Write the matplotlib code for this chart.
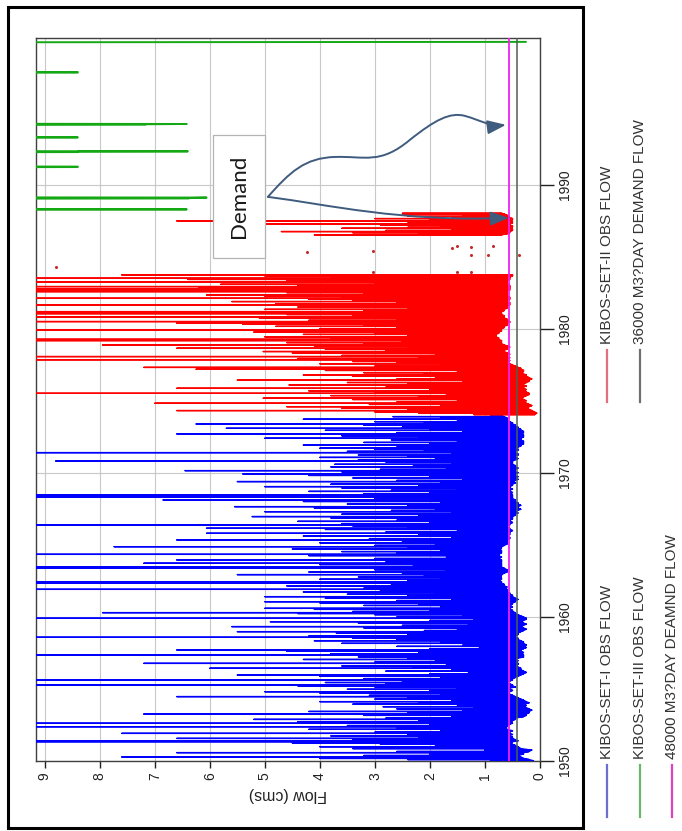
import numpy as np
import matplotlib
matplotlib.use('Agg')
import matplotlib.pyplot as plt
from matplotlib.lines import Line2D
from matplotlib.patches import Rectangle, FancyArrowPatch
from matplotlib.path import Path

plt.rcParams['font.family'] = ['Liberation Sans', 'DejaVu Sans']

# KIBOS-SET-I: flood spikes (year, peak flow, low flow before/after)
blue_t = [
    1950.02, 1950.10, 1950.18, 1950.28, 1950.38, 1950.48, 1950.58, 1950.66, 1950.76, 1950.86,
    1950.99, 1951.08, 1951.16, 1951.26, 1951.34, 1951.40, 1951.48, 1951.57, 1951.66, 1951.74,
    1951.84, 1951.92, 1952.00, 1952.10, 1952.20, 1952.30, 1952.38, 1952.46, 1952.55, 1952.62,
    1952.72, 1952.80, 1952.89, 1952.98, 1953.08, 1953.17, 1953.26, 1953.35, 1953.44, 1953.53,
    1953.62, 1953.70, 1953.77, 1953.86, 1953.95, 1954.04, 1954.12, 1954.22, 1954.30, 1954.38,
    1954.47, 1954.56, 1954.64, 1954.72, 1954.81, 1954.90, 1954.98, 1955.06, 1955.14, 1955.22,
    1955.28, 1955.36, 1955.45, 1955.54, 1955.63, 1955.72, 1955.80, 1955.88, 1955.97, 1956.06,
    1956.15, 1956.24, 1956.34, 1956.44, 1956.52, 1956.60, 1956.70, 1956.78, 1956.87, 1956.96,
    1957.05, 1957.14, 1957.22, 1957.30, 1957.36, 1957.45, 1957.53, 1957.62, 1957.71, 1957.80,
    1957.88, 1957.96, 1958.05, 1958.17, 1958.26, 1958.35, 1958.44, 1958.52, 1958.59, 1958.68,
    1958.78, 1958.88, 1958.98, 1959.06, 1959.15, 1959.24, 1959.33, 1959.42, 1959.50, 1959.58,
    1959.67, 1959.76, 1959.84, 1959.91, 1960.00, 1960.08, 1960.16, 1960.24, 1960.30, 1960.38,
    1960.46, 1960.53, 1960.60, 1960.70, 1960.80, 1960.90, 1960.98, 1961.06, 1961.14, 1961.22,
    1961.30, 1961.41, 1961.50, 1961.58, 1961.66, 1961.74, 1961.83, 1961.92, 1962.00, 1962.08,
    1962.16, 1962.26, 1962.34, 1962.40, 1962.45, 1962.54, 1962.62, 1962.70, 1962.78, 1962.86,
    1962.94, 1963.04, 1963.12, 1963.20, 1963.28, 1963.38, 1963.46, 1963.55, 1963.64, 1963.73,
    1963.82, 1963.90, 1963.96, 1964.06, 1964.16, 1964.26, 1964.35, 1964.45, 1964.54, 1964.62,
    1964.72, 1964.80, 1964.88, 1964.97, 1965.06, 1965.15, 1965.25, 1965.35, 1965.44, 1965.53,
    1965.62, 1965.72, 1965.81, 1965.90, 1966.00, 1966.08, 1966.16, 1966.25, 1966.32, 1966.39,
    1966.48, 1966.56, 1966.64, 1966.72, 1966.80, 1966.88, 1966.97, 1967.06, 1967.14, 1967.22,
    1967.31, 1967.40, 1967.48, 1967.57, 1967.66, 1967.75, 1967.84, 1967.92, 1968.02, 1968.13,
    1968.22, 1968.31, 1968.39, 1968.47, 1968.56, 1968.64, 1968.72, 1968.80, 1968.88, 1968.96,
    1969.05, 1969.14, 1969.22, 1969.31, 1969.40, 1969.48, 1969.56, 1969.65, 1969.74, 1969.83,
    1969.93, 1970.02, 1970.08, 1970.16, 1970.25, 1970.34, 1970.42, 1970.51, 1970.60, 1970.68,
    1970.76, 1970.83, 1970.92, 1971.00, 1971.08, 1971.16, 1971.24, 1971.32, 1971.41, 1971.50,
    1971.58, 1971.65, 1971.72, 1971.80, 1971.87, 1971.94, 1972.03, 1972.12, 1972.20, 1972.30,
    1972.41, 1972.50, 1972.58, 1972.64, 1972.71, 1972.80, 1972.88, 1972.96, 1973.03, 1973.10,
    1973.18, 1973.25, 1973.32, 1973.40, 1973.48, 1973.56, 1973.65, 1973.73, 1973.82, 1973.91,
    1973.98,
]
blue_peak = [
    0.9, 2.4, 4.0, 7.6, 3.2, 2.0, 6.6, 2.6, 1.0, 3.4,
    4.0, 1.9, 2.9, 4.5, 10, 10, 3.4, 6.6, 2.2, 3.8,
    2.4, 7.6, 3.0, 1.8, 4.2, 2.6, 10, 3.5, 2.0, 10,
    4.4, 2.2, 5.2, 2.8, 1.6, 3.2, 7.2, 2.4, 4.2, 1.4,
    2.6, 1.2, 2.85, 1.5, 3.4, 2.2, 4.0, 1.6, 3.0, 2.4,
    6.6, 3.1, 1.8, 4.0, 5.0, 2.0, 3.5, 1.5, 3.0, 4.4,
    10, 2.8, 3.9, 2.5, 10, 3.2, 1.8, 4.0, 5.5, 2.0,
    1.3, 2.8, 1.6, 6.0, 2.3, 3.6, 1.7, 7.2, 3.0, 1.9,
    4.3, 2.4, 3.3, 1.8, 10, 3.8, 2.2, 4.6, 6.6, 2.0,
    1.1, 2.6, 1.4, 3.6, 1.8, 4.1, 2.6, 3.4, 10, 4.2,
    2.4, 3.7, 5.5, 2.1, 1.5, 3.2, 5.6, 2.5, 1.3, 3.3,
    4.9, 2.0, 1.2, 10, 2.6, 1.4, 3.0, 4.4, 7.95, 3.4,
    2.0, 4.1, 5.0, 1.8, 3.2, 2.2, 4.0, 5.0, 2.6, 1.6,
    3.9, 5.0, 2.4, 3.5, 1.9, 4.3, 2.9, 10, 3.2, 1.9,
    4.6, 2.7, 10, 3.8, 10, 2.4, 4.0, 1.8, 3.3, 2.1,
    5.5, 2.5, 4.2, 1.7, 3.0, 10, 10, 2.3, 4.0, 7.2,
    2.8, 1.9, 6.6, 3.0, 1.7, 4.2, 10, 2.6, 3.6, 1.8,
    4.5, 2.4, 7.74, 3.0, 1.9, 4.0, 2.5, 6.6, 3.1, 1.6,
    4.3, 2.2, 6.06, 2.8, 1.5, 3.9, 6.06, 2.4, 3.4, 10,
    3.6, 2.0, 4.4, 2.6, 1.4, 3.8, 5.23, 2.2, 3.6, 1.6,
    5.0, 2.7, 1.9, 4.1, 5.55, 2.4, 3.5, 1.8, 4.3, 6.85,
    3.0, 10, 10, 10, 3.2, 2.0, 4.2, 2.7, 1.5, 3.6,
    5.0, 2.2, 3.8, 1.8, 5.5, 2.6, 1.4, 3.4, 2.0, 4.2,
    5.4, 2.4, 3.6, 6.45, 2.9, 1.7, 3.8, 2.3, 3.73, 1.6,
    2.8, 8.8, 3.3, 1.9, 4.0, 2.4, 3.3, 1.6, 10, 3.5,
    2.1, 3.0, 4.0, 1.8, 2.6, 4.3, 2.0, 3.2, 1.5, 2.7,
    5.0, 2.2, 3.6, 1.7, 6.6, 2.6, 1.4, 3.9, 2.0, 5.7,
    2.5, 1.6, 3.2, 6.25, 2.1, 3.0, 1.5, 4.3, 1.8, 2.67,
    0.9,
]
blue_low = [
    0.12, 0.2, 0.3, 0.35, 0.4, 0.3, 0.3, 0.2, 0.15, 0.35,
    0.4, 0.45, 0.5, 0.55, 0.5, 0.4, 0.45, 0.5, 0.5, 0.6,
    0.5, 0.6, 0.55, 0.5, 0.6, 0.65, 0.6, 0.6, 0.55, 0.5,
    0.55, 0.5, 0.45, 0.45, 0.3, 0.25, 0.25, 0.2, 0.2, 0.15,
    0.2, 0.25, 0.3, 0.25, 0.3, 0.2, 0.25, 0.3, 0.35, 0.4,
    0.45, 0.5, 0.55, 0.6, 0.55, 0.5, 0.6, 0.55, 0.45, 0.5,
    0.5, 0.55, 0.6, 0.55, 0.5, 0.5, 0.45, 0.4, 0.35, 0.3,
    0.25, 0.3, 0.35, 0.35, 0.4, 0.45, 0.4, 0.4, 0.45, 0.4,
    0.45, 0.4, 0.3, 0.3, 0.3, 0.35, 0.3, 0.35, 0.35, 0.3,
    0.25, 0.3, 0.25, 0.3, 0.3, 0.35, 0.4, 0.4, 0.45, 0.45,
    0.4, 0.4, 0.35, 0.3, 0.25, 0.3, 0.35, 0.3, 0.25, 0.3,
    0.35, 0.3, 0.25, 0.25, 0.3, 0.35, 0.4, 0.45, 0.45, 0.5,
    0.5, 0.55, 0.55, 0.5, 0.55, 0.5, 0.5, 0.45, 0.45, 0.4,
    0.45, 0.5, 0.5, 0.55, 0.55, 0.6, 0.6, 0.6, 0.65, 0.6,
    0.65, 0.65, 0.7, 0.7, 0.7, 0.75, 0.7, 0.7, 0.75, 0.7,
    0.7, 0.65, 0.6, 0.6, 0.6, 0.65, 0.7, 0.7, 0.7, 0.7,
    0.7, 0.7, 0.7, 0.75, 0.7, 0.75, 0.75, 0.7, 0.7, 0.7,
    0.75, 0.7, 0.7, 0.65, 0.6, 0.6, 0.6, 0.6, 0.55, 0.55,
    0.6, 0.55, 0.55, 0.55, 0.5, 0.55, 0.55, 0.6, 0.6, 0.55,
    0.55, 0.5, 0.55, 0.55, 0.5, 0.5, 0.5, 0.45, 0.45, 0.4,
    0.45, 0.4, 0.35, 0.4, 0.4, 0.35, 0.4, 0.4, 0.45, 0.45,
    0.5, 0.5, 0.5, 0.5, 0.55, 0.5, 0.55, 0.55, 0.5, 0.55,
    0.55, 0.5, 0.5, 0.45, 0.5, 0.45, 0.4, 0.45, 0.4, 0.45,
    0.45, 0.4, 0.45, 0.45, 0.45, 0.4, 0.45, 0.45, 0.5, 0.5,
    0.5, 0.5, 0.45, 0.4, 0.45, 0.45, 0.4, 0.4, 0.45, 0.45,
    0.4, 0.4, 0.45, 0.4, 0.35, 0.35, 0.3, 0.3, 0.3, 0.35,
    0.35, 0.3, 0.3, 0.3, 0.35, 0.3, 0.3, 0.35, 0.35, 0.4,
    0.4, 0.45, 0.45, 0.5, 0.5, 0.55, 0.6, 0.6, 0.6, 0.65,
    0.7,
]

# KIBOS-SET-II: main record 1974-1983 and the short 1986-88 record
red_t = [
    1974.05, 1974.15, 1974.24, 1974.33, 1974.42, 1974.50, 1974.60, 1974.68, 1974.76, 1974.84,
    1974.93, 1975.02, 1975.10, 1975.19, 1975.28, 1975.37, 1975.45, 1975.53, 1975.62, 1975.70,
    1975.79, 1975.88, 1975.96, 1976.04, 1976.11, 1976.20, 1976.28, 1976.36, 1976.44, 1976.53,
    1976.62, 1976.71, 1976.80, 1976.88, 1976.96, 1977.04, 1977.12, 1977.20, 1977.27, 1977.33,
    1977.42, 1977.50, 1977.58, 1977.66, 1977.74, 1977.80, 1977.86, 1977.94, 1978.00, 1978.08,
    1978.16, 1978.25, 1978.34, 1978.43, 1978.52, 1978.59, 1978.66, 1978.74, 1978.82, 1978.89,
    1978.97, 1979.05, 1979.12, 1979.19, 1979.24, 1979.28, 1979.37, 1979.45, 1979.53, 1979.62,
    1979.70, 1979.78, 1979.86, 1979.93, 1980.02, 1980.10, 1980.18, 1980.26, 1980.33, 1980.40,
    1980.46, 1980.51, 1980.60, 1980.68, 1980.76, 1980.84, 1980.92, 1981.00, 1981.06, 1981.10,
    1981.16, 1981.20, 1981.28, 1981.36, 1981.44, 1981.52, 1981.60, 1981.67, 1981.75, 1981.83,
    1981.90, 1981.98, 1982.06, 1982.13, 1982.20, 1982.28, 1982.36, 1982.44, 1982.52, 1982.59,
    1982.65, 1982.71, 1982.77, 1982.84, 1982.90, 1982.94, 1983.02, 1983.10, 1983.18, 1983.24,
    1983.28, 1983.36, 1983.44, 1983.52, 1983.60, 1983.68, 1983.75,
]
red_peak = [
    1.2, 2.2, 3.0, 6.6, 2.4, 3.6, 4.6, 1.8, 3.1, 7.0,
    2.6, 1.5, 3.4, 5.03, 2.2, 3.8, 1.7, 10, 3.0, 4.2,
    2.0, 6.6, 2.8, 1.6, 4.56, 2.4, 3.5, 1.4, 5.5, 2.6,
    1.9, 3.4, 4.3, 2.1, 3.2, 1.5, 3.9, 6.25, 2.6, 7.2,
    3.0, 1.8, 4.0, 2.6, 3.4, 1.6, 10, 4.4, 2.2, 10,
    3.6, 1.9, 4.5, 5.03, 2.8, 3.9, 6.6, 2.4, 4.1, 7.95,
    3.2, 4.6, 2.5, 10, 10, 10, 3.8, 5.0, 2.4, 4.3,
    3.0, 5.2, 2.2, 10, 4.0, 2.6, 4.8, 3.2, 5.4, 6.6,
    3.0, 10, 4.2, 2.6, 5.1, 10, 3.4, 4.6, 10, 10,
    4.0, 10, 3.2, 5.0, 2.4, 4.4, 3.0, 10, 4.8, 2.6,
    5.6, 3.4, 4.2, 10, 3.6, 5.0, 6.06, 3.2, 4.6, 10,
    5.4, 10, 10, 4.0, 6.2, 10, 4.4, 5.8, 3.0, 10,
    10, 4.6, 6.4, 10, 3.8, 5.0, 7.6,
]
red_low = [
    0.1, 0.06, 0.1, 0.15, 0.2, 0.25, 0.2, 0.15, 0.2, 0.25,
    0.3, 0.25, 0.3, 0.35, 0.3, 0.25, 0.2, 0.2, 0.25, 0.3,
    0.25, 0.3, 0.3, 0.25, 0.3, 0.3, 0.25, 0.2, 0.2, 0.15,
    0.2, 0.25, 0.25, 0.3, 0.35, 0.3, 0.3, 0.35, 0.35, 0.4,
    0.45, 0.5, 0.55, 0.6, 0.6, 0.55, 0.6, 0.6, 0.55, 0.6,
    0.6, 0.55, 0.6, 0.65, 0.65, 0.6, 0.6, 0.55, 0.6, 0.65,
    0.7, 0.7, 0.7, 0.7, 0.75, 0.75, 0.75, 0.8, 0.8, 0.8,
    0.75, 0.75, 0.7, 0.7, 0.7, 0.65, 0.65, 0.6, 0.6, 0.6,
    0.55, 0.55, 0.6, 0.6, 0.65, 0.65, 0.65, 0.7, 0.7, 0.7,
    0.7, 0.7, 0.65, 0.65, 0.6, 0.6, 0.6, 0.55, 0.55, 0.55,
    0.6, 0.6, 0.55, 0.55, 0.55, 0.6, 0.6, 0.6, 0.6, 0.6,
    0.6, 0.55, 0.55, 0.55, 0.55, 0.55, 0.55, 0.6, 0.6, 0.6,
    0.6, 0.6, 0.55, 0.55, 0.55, 0.5, 0.5,
]
red2_t = [1986.53, 1986.60, 1986.68, 1986.76, 1986.84, 1986.92, 1986.99, 1987.06, 1987.14, 1987.22,
          1987.29, 1987.36, 1987.43, 1987.50, 1987.58, 1987.66, 1987.74, 1987.82, 1987.90, 1987.97,
          1988.03]
red2_peak = [4.1, 2.2, 3.4, 4.7, 2.8, 1.6, 3.6, 2.4, 1.8, 2.9,
             5.0, 2.4, 1.5, 6.6, 2.0, 3.0, 1.6, 2.4, 1.4, 2.5,
             2.5]
red2_low = [0.7, 0.6, 0.55, 0.55, 0.5, 0.5, 0.55, 0.5, 0.5, 0.55,
            0.55, 0.5, 0.5, 0.55, 0.5, 0.5, 0.55, 0.6, 0.6, 0.65,
            0.7]
# isolated KIBOS-SET-II readings between the two records
red_dot_t = [1983.96, 1983.96, 1983.96, 1984.33, 1985.14, 1985.14, 1985.14, 1985.35, 1985.42,
             1985.60, 1985.70, 1985.76, 1985.76]
red_dot_q = [3.04, 1.51, 1.25, 8.8, 1.25, 0.95, 0.38, 4.24, 3.04,
             1.6, 1.25, 1.51, 0.85]

# KIBOS-SET-III: mostly off the top of the scale, with a few low-flow dips
green_t = [1988.10, 1988.28, 1988.30, 1988.32, 1989.04, 1989.06, 1989.09, 1989.12, 1989.14,
           1991.22, 1991.24, 1991.27, 1991.29, 1992.26, 1992.28, 1992.31, 1992.33, 1992.35,
           1993.28, 1993.30, 1993.32, 1994.16, 1994.18, 1994.21, 1994.23, 1994.25,
           1997.78, 1997.80, 1997.83, 1997.85, 1999.90, 1999.93]
green_q = [11, 11, 6.42, 11, 11, 6.38, 6.38, 6.06, 11,
           11, 8.4, 8.4, 11, 11, 8.4, 8.4, 6.4, 11,
           11, 8.4, 11, 11, 7.17, 7.17, 6.42, 11,
           11, 8.4, 8.4, 11, 11, 0.26]

# demand flows, m3/day converted to cms
demand_48000 = 48000 / 86400.0
demand_36000 = 36000 / 86400.0

flow_ticks = [0, 1, 2, 3, 4, 5, 6, 7, 8, 9]
year_ticks = [1950, 1960, 1970, 1980, 1990]

legend_labels = ['KIBOS-SET-I OBS FLOW', 'KIBOS-SET-III OBS FLOW', '48000 M3?DAY DEAMND FLOW',
                 'KIBOS-SET-II OBS FLOW', '36000 M3?DAY DEMAND FLOW']

BLUE = '#0000ff'
RED = '#ff0000'
GREEN = '#14a814'
MAGENTA = '#f020f0'
GREY = '#4f5f50'
ARROW = '#3f5b7d'


def spike_line(t, peak, low):
    """turn spike lists into one hydrograph line (low -> peak -> low)"""
    ts = np.repeat(np.asarray(t, dtype=float), 3)
    qs = np.column_stack([low, peak, low]).ravel()
    return qs, ts


fig = plt.figure(figsize=(6.82, 8.31), dpi=100)

# outer frame
fig.patches.append(Rectangle((8 / 682, 3 / 831), 575 / 682, 821 / 831, transform=fig.transFigure,
                             fill=False, edgecolor='black', linewidth=2.2, zorder=0))

ax = fig.add_axes([36 / 682, 70 / 831, 504 / 682, 723 / 831])

# flow runs right to left, years run bottom to top
q, t = spike_line(blue_t, blue_peak, blue_low)
ax.plot(q, t, color=BLUE, linewidth=1.0, zorder=3)
q, t = spike_line(red_t, red_peak, red_low)
ax.plot(q, t, color=RED, linewidth=1.0, zorder=3)
q, t = spike_line(red2_t, red2_peak, red2_low)
ax.plot(q, t, color=RED, linewidth=1.0, zorder=3)
ax.plot(red_dot_q, red_dot_t, 'o', color='#c42a2a', markersize=2.2, markeredgewidth=0, zorder=3)
ax.plot(green_q, green_t, color=GREEN, linewidth=1.4, zorder=3)

ax.axvline(demand_48000, color=MAGENTA, linewidth=1.3, zorder=4)
ax.axvline(demand_36000, color=GREY, linewidth=1.1, zorder=4)

ax.set_xlim(9.16, 0)
ax.set_ylim(1950, 2000.2)
ax.set_xticks(flow_ticks)
ax.set_yticks(year_ticks)
ax.yaxis.tick_right()
ax.tick_params(axis='x', direction='out', length=5, width=1, labelrotation=90, labelsize=10,
               pad=3, colors='#222222')
ax.tick_params(axis='y', direction='out', length=10, width=1, labelrotation=90, labelsize=10,
               pad=3, colors='#222222')
for lab in ax.get_yticklabels():
    lab.set_verticalalignment('center')
ax.grid(True, color='#c8c8c8', linewidth=0.8, zorder=0)
ax.set_axisbelow(True)
for sp in ax.spines.values():
    sp.set_color('#404040')
    sp.set_linewidth(1.0)

ax.set_xlabel('Flow (cms)', rotation=180, fontsize=11.5, labelpad=5, color='#222222')

# "Demand" call-out with arrows to the two demand lines
ax.add_patch(Rectangle((5.0, 1984.93), 0.95, 8.54, facecolor='white', edgecolor='#b4b4b4',
                       linewidth=0.9, zorder=5))
ax.text(5.475, 1989.2, 'Demand', rotation=90, ha='center', va='center', fontsize=16,
        family=['Lato', 'DejaVu Sans'], color='#1a1a1a', zorder=6)

upper = Path([(4.945, 1989.17), (4.545, 1990.90), (4.273, 1991.88), (3.727, 1991.94),
              (3.182, 1992.01), (2.909, 1991.39), (2.364, 1993.13),
              (1.909, 1994.51), (1.636, 1995.07), (1.364, 1994.79),
              (1.091, 1994.51), (0.909, 1994.03), (0.618, 1994.17)],
             [Path.MOVETO] + [Path.CURVE4] * 12)
lower = Path([(4.945, 1989.17), (3.818, 1988.61), (2.545, 1987.43), (0.564, 1987.71)],
             [Path.MOVETO, Path.CURVE4, Path.CURVE4, Path.CURVE4])
for p in (upper, lower):
    ax.add_patch(FancyArrowPatch(path=p, arrowstyle='-|>,head_length=0.8,head_width=0.3',
                                 mutation_scale=14, color=ARROW, linewidth=1.4, zorder=6))

# legend, drawn in the same rotated orientation
legend_cols = [607, 640, 672, 607, 640]
legend_tops = [765, 765, 765, 350, 350]
legend_colors = ['#6e6ed0', '#6bb86b', '#e040c0', '#e07080', '#707070']
for lab, x, ytop, c in zip(legend_labels, legend_cols, legend_tops, legend_colors):
    fx = x / 682
    fig.add_artist(Line2D([fx, fx], [(831 - ytop - 52) / 831, (831 - ytop) / 831],
                          transform=fig.transFigure, color=c, linewidth=1.6))
    fig.text(fx, (831 - ytop + 6) / 831, lab, rotation=90, ha='center', va='bottom',
             fontsize=11, color='#333333')

fig.savefig('out.png', dpi=100)
